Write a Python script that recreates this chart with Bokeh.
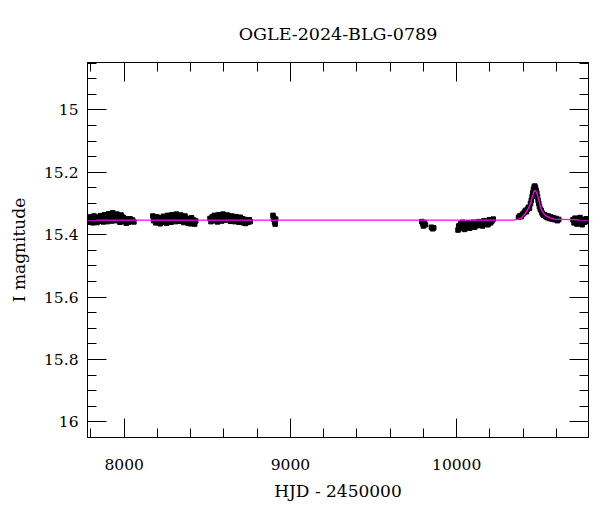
from bokeh.plotting import figure
from bokeh.models import Range1d, LinearAxis, SingleIntervalTicker, CustomJSTickFormatter, ColumnDataSource
from bokeh.embed import file_html
from bokeh.resources import INLINE

# ---- data ----
hjd1 = [7782, 7786, 7794, 7799, 7806, 7811, 7818, 7824, 7831, 7836, 7843, 7849, 7856, 7861, 7868, 7874,
        7881, 7886, 7893, 7899, 7906, 7911, 7918, 7924, 7931, 7936, 7943, 7949, 7956, 7961, 7968, 7974,
        7981, 7986, 7993, 7999, 8006, 8012, 8020, 8027, 8035, 8042, 8050, 8058]
mag1 = [15.348, 15.360, 15.343, 15.356, 15.351, 15.362, 15.340, 15.354, 15.347, 15.361, 15.344, 15.357,
        15.339, 15.352, 15.346, 15.359, 15.336, 15.350, 15.343, 15.358, 15.333, 15.348, 15.341, 15.356,
        15.330, 15.347, 15.339, 15.355, 15.334, 15.351, 15.345, 15.360, 15.337, 15.352, 15.344, 15.358,
        15.349, 15.363, 15.352, 15.360, 15.349, 15.357, 15.353, 15.359]

hjd2 = [8172, 8177, 8184, 8190, 8197, 8203, 8210, 8216, 8223, 8229, 8236, 8242, 8249, 8255, 8262, 8268,
        8275, 8281, 8288, 8294, 8301, 8307, 8314, 8320, 8327, 8333, 8340, 8346, 8353, 8359, 8366, 8372,
        8379, 8385, 8392, 8398, 8405, 8411, 8418, 8424, 8430]
mag2 = [15.340, 15.355, 15.347, 15.362, 15.343, 15.358, 15.350, 15.365, 15.346, 15.360, 15.341, 15.356,
        15.349, 15.363, 15.338, 15.353, 15.345, 15.360, 15.336, 15.351, 15.343, 15.358, 15.334, 15.350,
        15.341, 15.357, 15.337, 15.352, 15.345, 15.361, 15.340, 15.355, 15.348, 15.363, 15.351, 15.365,
        15.346, 15.360, 15.353, 15.366, 15.356]

hjd3 = [8516, 8522, 8529, 8535, 8542, 8548, 8555, 8561, 8568, 8574, 8581, 8587, 8594, 8600, 8607, 8613,
        8620, 8626, 8633, 8639, 8646, 8652, 8659, 8665, 8672, 8678, 8685, 8691, 8698, 8704, 8711, 8717,
        8724, 8730, 8737, 8745, 8752, 8758]
mag3 = [15.348, 15.358, 15.343, 15.355, 15.338, 15.351, 15.345, 15.359, 15.336, 15.350, 15.341, 15.356,
        15.334, 15.348, 15.339, 15.353, 15.337, 15.350, 15.343, 15.357, 15.340, 15.352, 15.345, 15.358,
        15.342, 15.355, 15.347, 15.360, 15.344, 15.356, 15.349, 15.362, 15.351, 15.364, 15.355, 15.360,
        15.352, 15.358]

hjd4 = [8895, 8898, 8902, 8905, 8908, 8911]
mag4 = [15.338, 15.345, 15.352, 15.359, 15.366, 15.350]

hjd5 = [9790, 9796, 9800, 9806, 9812, 9848, 9855, 9862]
mag5 = [15.358, 15.365, 15.372, 15.361, 15.368, 15.376, 15.381, 15.378]

hjd6 = [10008, 10012, 10018, 10024, 10030, 10036, 10042, 10048, 10055, 10062, 10070, 10078, 10085, 10093,
        10100, 10108, 10116, 10124, 10132, 10140, 10148, 10156, 10164, 10172, 10180, 10188, 10196, 10204,
        10212, 10220]
mag6 = [15.385, 15.372, 15.380, 15.365, 15.378, 15.360, 15.372, 15.383, 15.366, 15.375, 15.362, 15.379,
        15.368, 15.374, 15.360, 15.376, 15.366, 15.371, 15.358, 15.369, 15.362, 15.372, 15.355, 15.366,
        15.360, 15.368, 15.352, 15.362, 15.356, 15.350]

hjd7 = [10372, 10380, 10388, 10395, 10402, 10408, 10414, 10420, 10426, 10432, 10438, 10444, 10449, 10454,
        10458, 10462, 10466, 10470, 10474, 10478, 10482, 10486, 10490, 10494, 10498, 10503, 10508, 10513,
        10518, 10524, 10530, 10537, 10544, 10551, 10558, 10566, 10574, 10582, 10590, 10598, 10606, 10614]
mag7 = [15.344, 15.340, 15.342, 15.335, 15.332, 15.328, 15.322, 15.326, 15.318, 15.312, 15.315, 15.300,
        15.290, 15.278, 15.266, 15.255, 15.247, 15.244, 15.250, 15.258, 15.266, 15.278, 15.290, 15.300,
        15.310, 15.318, 15.322, 15.330, 15.334, 15.338, 15.336, 15.342, 15.345, 15.340, 15.348, 15.343,
        15.350, 15.346, 15.352, 15.348, 15.355, 15.351]

hjd8 = [10700, 10706, 10712, 10718, 10724, 10730, 10736, 10742, 10748, 10755, 10762, 10770, 10778, 10786]
mag8 = [15.352, 15.362, 15.347, 15.358, 15.366, 15.350, 15.361, 15.345, 15.356, 15.368, 15.352, 15.360,
        15.349, 15.357]

model_hjd = [7779, 10340, 10366, 10386, 10406, 10421, 10436, 10446, 10456, 10464, 10472, 10480, 10492,
             10499, 10506, 10520, 10536, 10560, 10586, 10793]
model_mag = [15.353, 15.353, 15.351, 15.347, 15.337, 15.325, 15.311, 15.295, 15.277, 15.263, 15.258,
             15.264, 15.284, 15.300, 15.315, 15.330, 15.339, 15.346, 15.350, 15.353]

title_text = "OGLE-2024-BLG-0789"
x_label = "HJD - 2450000"
y_label = "I magnitude"
x_limits = (7779, 10793)
y_limits = (16.05, 14.848)

FONT = "DejaVu Serif"

hjd = hjd1 + hjd2 + hjd3 + hjd4 + hjd5 + hjd6 + hjd7 + hjd8
mag = mag1 + mag2 + mag3 + mag4 + mag5 + mag6 + mag7 + mag8
src = ColumnDataSource(data=dict(hjd=hjd, mag=mag))
msrc = ColumnDataSource(data=dict(hjd=model_hjd, mag=model_mag))

p = figure(width=598, height=510, output_backend="svg", toolbar_location=None,
           x_range=Range1d(*x_limits), y_range=Range1d(*y_limits),
           min_border_left=87, min_border_right=10, min_border_top=62, min_border_bottom=73,
           title=title_text, x_axis_label=x_label, y_axis_label=y_label)
p.xgrid.visible = False
p.ygrid.visible = False
p.outline_line_color = "black"
p.outline_line_width = 1
p.background_fill_color = "white"
p.border_fill_color = "white"

p.title.text_font = FONT
p.title.text_font_size = "17.5px"
p.title.text_font_style = "normal"
p.title.text_color = "black"
p.title.align = "center"
p.title.vertical_align = "top"
p.title.standoff = 34


def style(ax, ticker, show_labels=True):
    ax.ticker = ticker
    ax.major_tick_in = 19
    ax.major_tick_out = 0
    ax.minor_tick_in = 9
    ax.minor_tick_out = 0
    ax.axis_line_color = "black"
    ax.major_tick_line_color = "black"
    ax.minor_tick_line_color = "black"
    ax.major_label_text_font = FONT
    ax.major_label_text_font_size = "15.5px"
    ax.major_label_text_color = "black"
    ax.axis_label_text_font = FONT
    ax.axis_label_text_font_style = "normal"
    ax.axis_label_text_font_size = "17px"
    ax.axis_label_text_color = "black"
    if not show_labels:
        ax.formatter = CustomJSTickFormatter(code="return '';")
        ax.major_label_text_font_size = "0px"
        ax.major_label_standoff = 0


xt = SingleIntervalTicker(interval=1000, num_minor_ticks=5)
yt = SingleIntervalTicker(interval=0.2, num_minor_ticks=4)

xax = p.xaxis[0]
yax = p.yaxis[0]
style(xax, xt)
style(yax, yt)
xax.major_label_standoff = 21
xax.axis_label_standoff = 8
yax.major_label_standoff = 9
yax.axis_label_standoff = 12
yax.formatter = CustomJSTickFormatter(code="return String(Math.round(tick * 10) / 10);")

top_ax = LinearAxis()
style(top_ax, SingleIntervalTicker(interval=1000, num_minor_ticks=5), show_labels=False)
p.add_layout(top_ax, "above")
right_ax = LinearAxis()
style(right_ax, SingleIntervalTicker(interval=0.2, num_minor_ticks=4), show_labels=False)
p.add_layout(right_ax, "right")

p.scatter("hjd", "mag", source=src, marker="square", size=4.5, fill_color="black", line_color="black")
p.line("hjd", "mag", source=msrc, line_color="#ff00ff", line_width=1.3)

open("out.html", "w").write(file_html(p, INLINE))
